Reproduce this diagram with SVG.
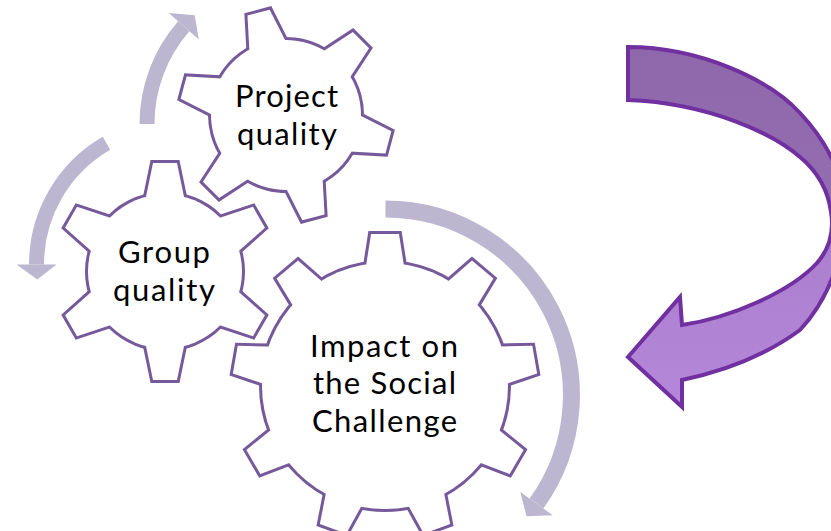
<svg xmlns="http://www.w3.org/2000/svg" width="831" height="531" viewBox="0 0 831 531">
<defs>
<linearGradient id="bigGrad" x1="0" y1="47" x2="0" y2="407" gradientUnits="userSpaceOnUse">
<stop offset="0" stop-color="#8e68aa"/>
<stop offset="0.42" stop-color="#946db1"/>
<stop offset="0.58" stop-color="#ad7fcf"/>
<stop offset="1" stop-color="#b587da"/>
</linearGradient>
<polygon id="toothL" points="-20.4,-111 -14,-152 14,-152 20.4,-111"/>
<polygon id="toothS" points="-21,-65 -12,-108.5 12,-108.5 21,-65"/>
<polygon id="toothP" points="-20.5,-63 -11.5,-106 11.5,-106 20.5,-63"/>
</defs>
<style>
.edge{stroke:#76599b;stroke-width:6;stroke-linejoin:miter;fill:#76599b}
.body{fill:#ffffff;stroke:none}
.label{font-family:Lato,"Open Sans","Liberation Sans",sans-serif;font-size:31px;fill:#000000;text-anchor:middle}
.shaft{fill:none;stroke:#bdb6d0;stroke-linecap:butt}
.head{fill:#bdb6d0;stroke:none}
.big{fill:url(#bigGrad);stroke:#7030a0;stroke-width:4;stroke-linejoin:miter}
</style>
<rect width="831" height="531" fill="#ffffff"/>

<g id="connectors">
<path class="shaft" stroke-width="15" d="M147,124 A148,148 0 0 1 183.8,26.3"/>
<polygon class="head" points="168.8,13.1 198.8,39.5 194.7,15.2"/>
<path class="shaft" stroke-width="15" d="M106.5,143.3 A140,140 0 0 0 36.5,264.5"/>
<polygon class="head" points="16.5,264.5 56.5,264.5 37.3,279.5"/>
<path class="shaft" stroke-width="17" d="M385.5,209 A186,186 0 0 1 536.5,503.5"/>
<polygon class="head" points="520.3,491.9 552.8,515.2 526.5,516.3"/>
<path id="big-arrow" class="big" d="M628,47 C700,47 770,80 800,113 C830,145 845,180 845,215 C845,255 828,300 800,330 C770,352 730,370 682,380 L682,407 L628,357 L680,297 L682,325 C730,318 790,292 817,263 C830,248 834,230 831,212 C828,190 818,172 800,157 C775,135 710,103 628,100 Z"/>
</g>

<g id="gear-project">
<g transform="translate(286,115) rotate(-15)">
<g class="edge"><circle r="75"/><use href="#toothP"/><use href="#toothP" transform="rotate(60)"/><use href="#toothP" transform="rotate(120)"/><use href="#toothP" transform="rotate(180)"/><use href="#toothP" transform="rotate(240)"/><use href="#toothP" transform="rotate(300)"/></g>
<g class="body"><circle r="75"/><use href="#toothP"/><use href="#toothP" transform="rotate(60)"/><use href="#toothP" transform="rotate(120)"/><use href="#toothP" transform="rotate(180)"/><use href="#toothP" transform="rotate(240)"/><use href="#toothP" transform="rotate(300)"/></g>
</g>
<text class="label" x="286.5" y="107" textLength="103">Project</text>
<text class="label" x="287" y="144.5" textLength="100">quality</text>
</g>

<g id="gear-group">
<g transform="translate(165,271.5)">
<g class="edge"><circle r="77"/><use href="#toothS"/><use href="#toothS" transform="rotate(60)"/><use href="#toothS" transform="rotate(120)"/><use href="#toothS" transform="rotate(180)"/><use href="#toothS" transform="rotate(240)"/><use href="#toothS" transform="rotate(300)"/></g>
<g class="body"><circle r="77"/><use href="#toothS"/><use href="#toothS" transform="rotate(60)"/><use href="#toothS" transform="rotate(120)"/><use href="#toothS" transform="rotate(180)"/><use href="#toothS" transform="rotate(240)"/><use href="#toothS" transform="rotate(300)"/></g>
</g>
<text class="label" x="164" y="263" textLength="92">Group</text>
<text class="label" x="164" y="300.5" textLength="102">quality</text>
</g>

<g id="gear-impact">
<g transform="translate(385,386)">
<g class="edge"><circle r="123"/><use href="#toothL"/><use href="#toothL" transform="rotate(40)"/><use href="#toothL" transform="rotate(80)"/><use href="#toothL" transform="rotate(120)"/><use href="#toothL" transform="rotate(160)"/><use href="#toothL" transform="rotate(200)"/><use href="#toothL" transform="rotate(240)"/><use href="#toothL" transform="rotate(280)"/><use href="#toothL" transform="rotate(320)"/></g>
<g class="body"><circle r="123"/><use href="#toothL"/><use href="#toothL" transform="rotate(40)"/><use href="#toothL" transform="rotate(80)"/><use href="#toothL" transform="rotate(120)"/><use href="#toothL" transform="rotate(160)"/><use href="#toothL" transform="rotate(200)"/><use href="#toothL" transform="rotate(240)"/><use href="#toothL" transform="rotate(280)"/><use href="#toothL" transform="rotate(320)"/></g>
</g>
<text class="label" x="384" y="356.5" textLength="148">Impact on</text>
<text class="label" x="384.5" y="394" textLength="143">the Social</text>
<text class="label" x="384.5" y="431.5" textLength="145">Challenge</text>
</g>
</svg>
